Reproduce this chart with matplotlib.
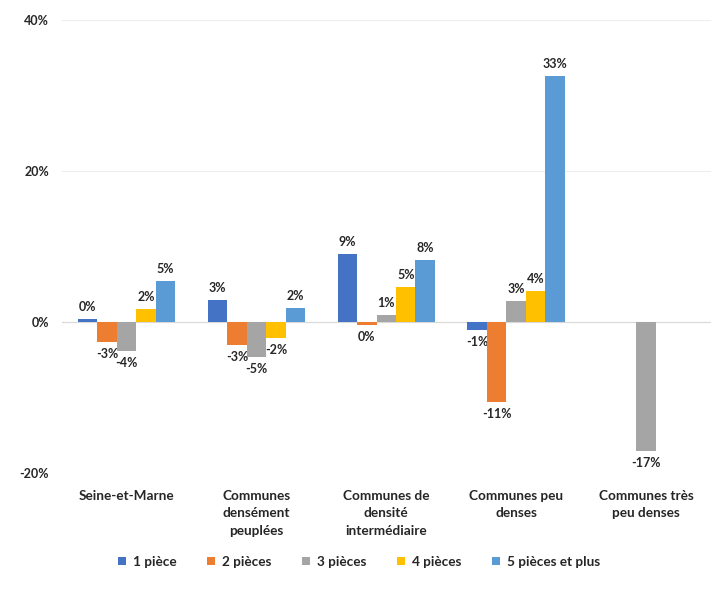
import numpy as np
import matplotlib
matplotlib.use("Agg")
import matplotlib.pyplot as plt
from matplotlib.ticker import FuncFormatter

categories = ["Seine-et-Marne", "Communes\ndensément\npeuplées", "Communes de\ndensité\nintermédiaire",
              "Communes peu\ndenses", "Communes très\npeu denses"]
series = ["1 pièce", "2 pièces", "3 pièces", "4 pièces", "5 pièces et plus"]
s1 = [0.4, 2.9, 9.0, -1.1, np.nan]
s2 = [-2.6, -3.0, -0.4, -10.6, np.nan]
s3 = [-3.8, -4.6, 0.9, 2.8, -17.0]
s4 = [1.7, -2.1, 4.6, 4.1, np.nan]
s5 = [5.4, 1.9, 8.2, 32.6, np.nan]
values = [s1, s2, s3, s4, s5]
colors = ["#4472C4", "#ED7D31", "#A5A5A5", "#FFC000", "#5B9BD5"]
yticks = [-20, 0, 20, 40]

plt.rcParams['font.family'] = ['Lato', 'DejaVu Sans']
fig = plt.figure(figsize=(7.18, 5.99), dpi=100)
ax = fig.add_axes([0.086, 0.21, 0.904, 0.757])

x = np.arange(len(categories))
w = 0.15
txtc = "#262626"
for i, (name, vals, c) in enumerate(zip(series, values, colors)):
    pos = x + (i - 2) * w
    v = np.array(vals, dtype=float)
    ax.bar(pos, v, width=w, color=c, label=name, zorder=3)
    for p, val in zip(pos, v):
        if np.isnan(val):
            continue
        lab = f"{round(val):.0f}%"
        if val >= 0:
            ax.text(p, val + 0.8, lab, ha='center', va='bottom', fontsize=9, fontweight='bold', color=txtc)
        else:
            ax.text(p, val - 0.8, lab, ha='center', va='top', fontsize=9, fontweight='bold', color=txtc)

ax.set_ylim(-20, 40)
ax.set_xlim(-0.5, len(categories) - 0.5)
ax.set_yticks(yticks)
ax.yaxis.set_major_formatter(FuncFormatter(lambda v, p: f"{v:.0f}%"))
ax.grid(axis='y', color='#EDEDED', linewidth=0.8, zorder=0)
ax.axhline(0, color='#D9D9D9', linewidth=0.8, zorder=2)
for s in ax.spines.values():
    s.set_visible(False)
ax.tick_params(axis='both', length=0, labelsize=9, colors=txtc)
ax.set_xticks(x)
ax.set_xticklabels(categories, fontweight='bold', va='top', linespacing=1.55, fontsize=9.8)
ax.tick_params(axis='x', pad=12)
for lab in ax.get_yticklabels():
    lab.set_fontweight('bold')
ax.yaxis.set_tick_params(pad=9)

leg = fig.legend(loc='center', bbox_to_anchor=(0.5, 0.062), ncol=5, frameon=False,
                 fontsize=9.8, handlelength=0.55, handleheight=0.55, handletextpad=0.5, columnspacing=2.3)
for t in leg.get_texts():
    t.set_fontweight('bold')
    t.set_color(txtc)

fig.savefig("out.png", dpi=100)
